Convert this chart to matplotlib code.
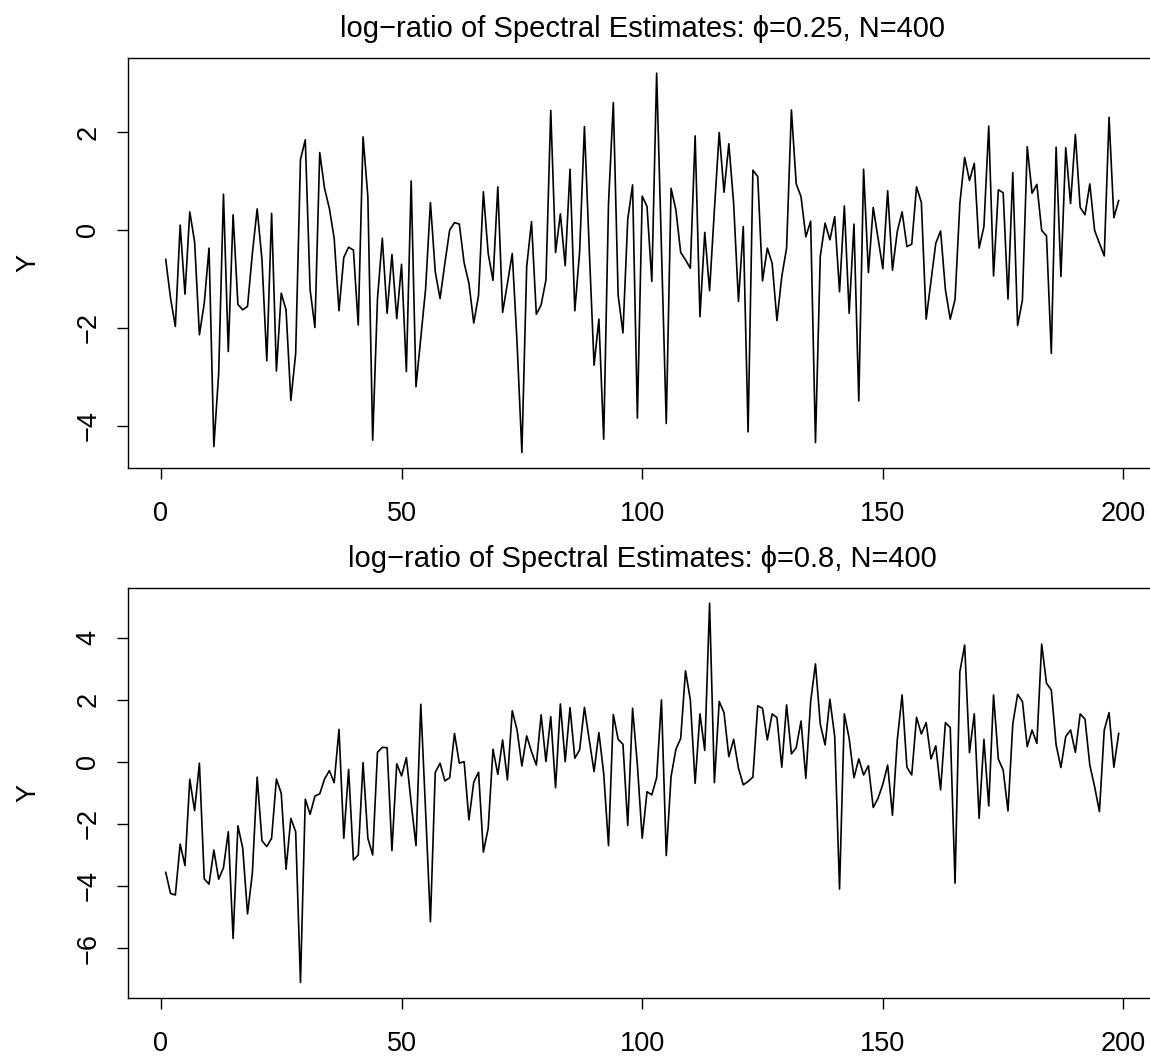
import numpy as np
import matplotlib
matplotlib.use("Agg")
import matplotlib.pyplot as plt

plt.rcParams['font.family'] = ['Liberation Sans', 'DejaVu Sans']

# log-ratio of the two spectral estimates at Fourier frequencies 1..199
freq = np.arange(1, 200)

ratio_phi025 = [
    -0.60, -1.39, -1.97, 0.10, -1.31, 0.37, -0.24, -2.14, -1.50, -0.37,
    -4.42, -2.93, 0.73, -2.48, 0.31, -1.52, -1.63, -1.56, -0.48, 0.43,
    -0.61, -2.67, 0.34, -2.88, -1.29, -1.63, -3.48, -2.52, 1.44, 1.84,
    -1.22, -1.99, 1.58, 0.85, 0.44, -0.17, -1.65, -0.56, -0.35, -0.41,
    -1.94, 1.90, 0.68, -4.29, -1.40, -0.17, -1.70, -0.50, -1.81, -0.70,
    -2.89, 1.00, -3.20, -2.20, -1.20, 0.56, -0.85, -1.40, -0.68, 0.00,
    0.15, 0.12, -0.67, -1.09, -1.90, -1.33, 0.78, -0.48, -1.03, 0.88,
    -1.68, -1.09, -0.48, -2.30, -4.54, -0.75, 0.17, -1.72, -1.53, -1.02,
    2.44, -0.46, 0.33, -0.73, 1.24, -1.65, -0.44, 2.11, -0.40, -2.76,
    -1.82, -4.27, 0.54, 2.60, -1.33, -2.10, 0.22, 0.92, -3.84, 0.69,
    0.48, -1.05, 3.20, -0.40, -3.95, 0.85, 0.41, -0.46, -0.61, -0.78,
    1.92, -1.77, -0.05, -1.24, 0.41, 1.99, 0.77, 1.76, 0.54, -1.46,
    0.07, -4.12, 1.22, 1.09, -1.04, -0.37, -0.68, -1.85, -0.95, -0.37,
    2.45, 0.94, 0.68, -0.14, 0.18, -4.34, -0.54, 0.14, -0.20, 0.27,
    -1.26, 0.49, -1.70, 0.12, -3.49, 1.24, -0.87, 0.46, -0.17, -0.79,
    0.80, -0.82, -0.03, 0.37, -0.34, -0.29, 0.88, 0.56, -1.82, -1.05,
    -0.27, -0.02, -1.22, -1.82, -1.42, 0.54, 1.48, 1.01, 1.36, -0.37,
    0.07, 2.12, -0.94, 0.82, 0.76, -1.41, 1.17, -1.95, -1.43, 1.70,
    0.75, 0.93, -0.01, -0.12, -2.52, 1.69, -0.95, 1.68, 0.54, 1.95,
    0.46, 0.31, 0.94, -0.01, -0.27, -0.53, 2.30, 0.25, 0.60,
]

ratio_phi08 = [
    -3.56, -4.24, -4.29, -2.65, -3.34, -0.56, -1.57, -0.04, -3.77, -3.94,
    -2.84, -3.78, -3.41, -2.25, -5.69, -2.06, -2.78, -4.90, -3.59, -0.49,
    -2.54, -2.73, -2.46, -0.55, -1.01, -3.46, -1.82, -2.25, -7.11, -1.20,
    -1.69, -1.10, -1.03, -0.55, -0.28, -0.67, 1.05, -2.46, -0.24, -3.16,
    -3.00, -0.02, -2.46, -3.00, 0.31, 0.47, 0.46, -2.86, -0.06, -0.45,
    0.14, -1.33, -2.70, 1.86, -1.60, -5.15, -0.34, -0.04, -0.61, -0.51,
    0.92, -0.04, 0.01, -1.87, -0.65, -0.33, -2.91, -2.14, 0.41, -0.40,
    0.71, -0.58, 1.65, 1.03, -0.13, 0.84, 0.33, -0.10, 1.52, 0.01,
    1.46, -0.83, 1.87, 0.01, 1.75, 0.12, 0.39, 1.76, 0.71, -0.31,
    0.95, -0.37, -2.70, 1.53, 0.73, 0.57, -2.05, 1.73, -0.10, -2.46,
    -0.96, -1.06, -0.51, 2.00, -3.02, -0.47, 0.41, 0.76, 2.94, 2.00,
    -0.69, 1.55, 0.37, 5.12, -0.67, 1.95, 1.59, 0.17, 0.73, -0.20,
    -0.74, -0.63, -0.49, 1.81, 1.73, 0.71, 1.55, 1.43, -0.17, 1.84,
    0.26, 0.46, 1.32, -0.53, 1.95, 3.16, 1.22, 0.55, 2.02, 0.82,
    -4.10, 1.55, 0.76, -0.51, 0.10, -0.42, -0.12, -1.47, -1.17, -0.72,
    -0.10, -1.72, 0.71, 2.16, -0.17, -0.42, 1.44, 0.90, 1.27, 0.10,
    0.52, -0.90, 1.27, 1.11, -3.91, 2.91, 3.77, 0.30, 1.55, -1.82,
    0.73, -1.42, 2.16, 0.09, -0.26, -1.58, 1.23, 2.18, 1.95, 0.49,
    1.03, 0.60, 3.80, 2.54, 2.32, 0.55, -0.18, 0.82, 1.03, 0.31,
    1.55, 1.38, -0.10, -0.80, -1.60, 1.03, 1.59, -0.17, 0.92,
]

titles = [
    "log\u2212ratio of Spectral Estimates: \u03d5=0.25, N=400",
    "log\u2212ratio of Spectral Estimates: \u03d5=0.8, N=400",
]
xticks = [0, 50, 100, 150, 200]
yticks = [[-4, -2, 0, 2], [-6, -4, -2, 0, 2, 4]]

W, H = 1150, 1057
fig = plt.figure(figsize=(W / 100, H / 100), dpi=100)

# panel boxes in pixels: left, top, right, bottom (right edge runs past the figure)
boxes = [(127.6, 58, 1156.8, 467.6), (127.6, 588, 1156.8, 997.6)]

for series, title, yt, (l, t, r, b) in zip([ratio_phi025, ratio_phi08], titles, yticks, boxes):
    ax = fig.add_axes([l / W, 1 - b / H, (r - l) / W, (b - t) / H])
    ax.plot(freq, series, color='black', lw=1.2)
    ax.margins(x=0.04, y=0.04)
    ax.set_xticks(xticks)
    ax.set_yticks(yt)
    ax.tick_params(direction='out', length=8, width=1, labelsize=19.5, color='black')
    ax.tick_params(axis='x', pad=16)
    ax.tick_params(axis='y', pad=11, labelrotation=90)
    for lab in ax.get_yticklabels():
        lab.set_va('center')
    for sp in ax.spines.values():
        sp.set_linewidth(1.0)
    ax.set_title(title, fontsize=21, pad=15)
    ax.set_ylabel('Y', fontsize=19.5)
    ax.yaxis.set_label_coords(-0.084, 0.5)

fig.savefig('out.png', dpi=100)
